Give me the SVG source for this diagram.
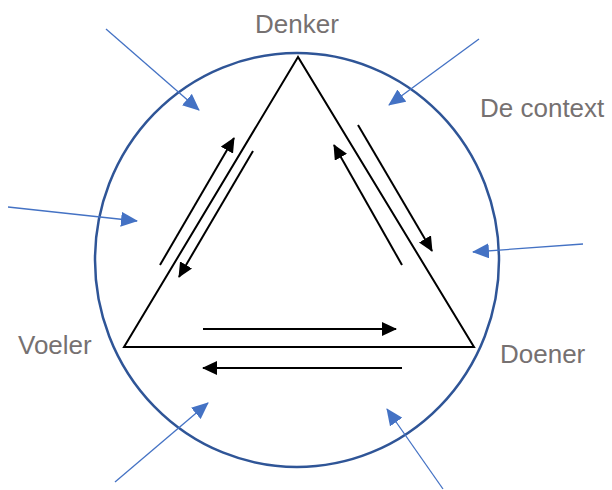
<svg xmlns="http://www.w3.org/2000/svg" width="612" height="490" viewBox="0 0 612 490">
<style>
.lbl{font-family:"Liberation Sans",Arial,sans-serif;font-size:26px;fill:#767171}
.blk{stroke:#000;stroke-width:2;fill:none}
.blu{stroke:#4472C4;stroke-width:1.3;fill:none}
</style>
<defs>
<marker id="ab" markerWidth="15" markerHeight="14" refX="14" refY="7" orient="auto" markerUnits="userSpaceOnUse" viewBox="0 0 15 14"><path d="M0,0 L15,7 L0,14 Z" fill="#000"/></marker>
<marker id="au" markerWidth="17" markerHeight="15" refX="16" refY="7.5" orient="auto" markerUnits="userSpaceOnUse" viewBox="0 0 17 15"><path d="M0,0 L17,7.5 L0,15 Z" fill="#4472C4"/></marker>
</defs>
<g id="context"><ellipse cx="297" cy="260" rx="202" ry="207" fill="none" stroke="#2F5597" stroke-width="2.5"/></g>
<g id="triangle"><polygon points="298,57 124,347 474,347" fill="none" stroke="#000" stroke-width="2"/></g>
<g id="denker"><text class="lbl" x="297" y="33" text-anchor="middle">Denker</text></g>
<g id="decontext"><text class="lbl" x="480" y="117">De context</text></g>
<g id="voeler"><text class="lbl" x="18" y="354">Voeler</text></g>
<g id="doener"><text class="lbl" x="500" y="363">Doener</text></g>
<g id="connectors">
<line class="blk" x1="160" y1="265" x2="234" y2="138" marker-end="url(#ab)"/>
<line class="blk" x1="253" y1="151" x2="179" y2="277" marker-end="url(#ab)"/>
<line class="blk" x1="402" y1="265" x2="334" y2="145" marker-end="url(#ab)"/>
<line class="blk" x1="358" y1="125" x2="432" y2="251" marker-end="url(#ab)"/>
<line class="blk" x1="203" y1="329" x2="396" y2="329" marker-end="url(#ab)"/>
<line class="blk" x1="402" y1="368" x2="203" y2="368" marker-end="url(#ab)"/>
<line class="blu" x1="106" y1="29" x2="199" y2="110" marker-end="url(#au)"/>
<line class="blu" x1="479" y1="39" x2="389" y2="105" marker-end="url(#au)"/>
<line class="blu" x1="8" y1="207" x2="137" y2="221" marker-end="url(#au)"/>
<line class="blu" x1="583" y1="244" x2="473" y2="252" marker-end="url(#au)"/>
<line class="blu" x1="115" y1="482" x2="208" y2="403" marker-end="url(#au)"/>
<line class="blu" x1="443" y1="489" x2="387" y2="409" marker-end="url(#au)"/>
</g>
</svg>
